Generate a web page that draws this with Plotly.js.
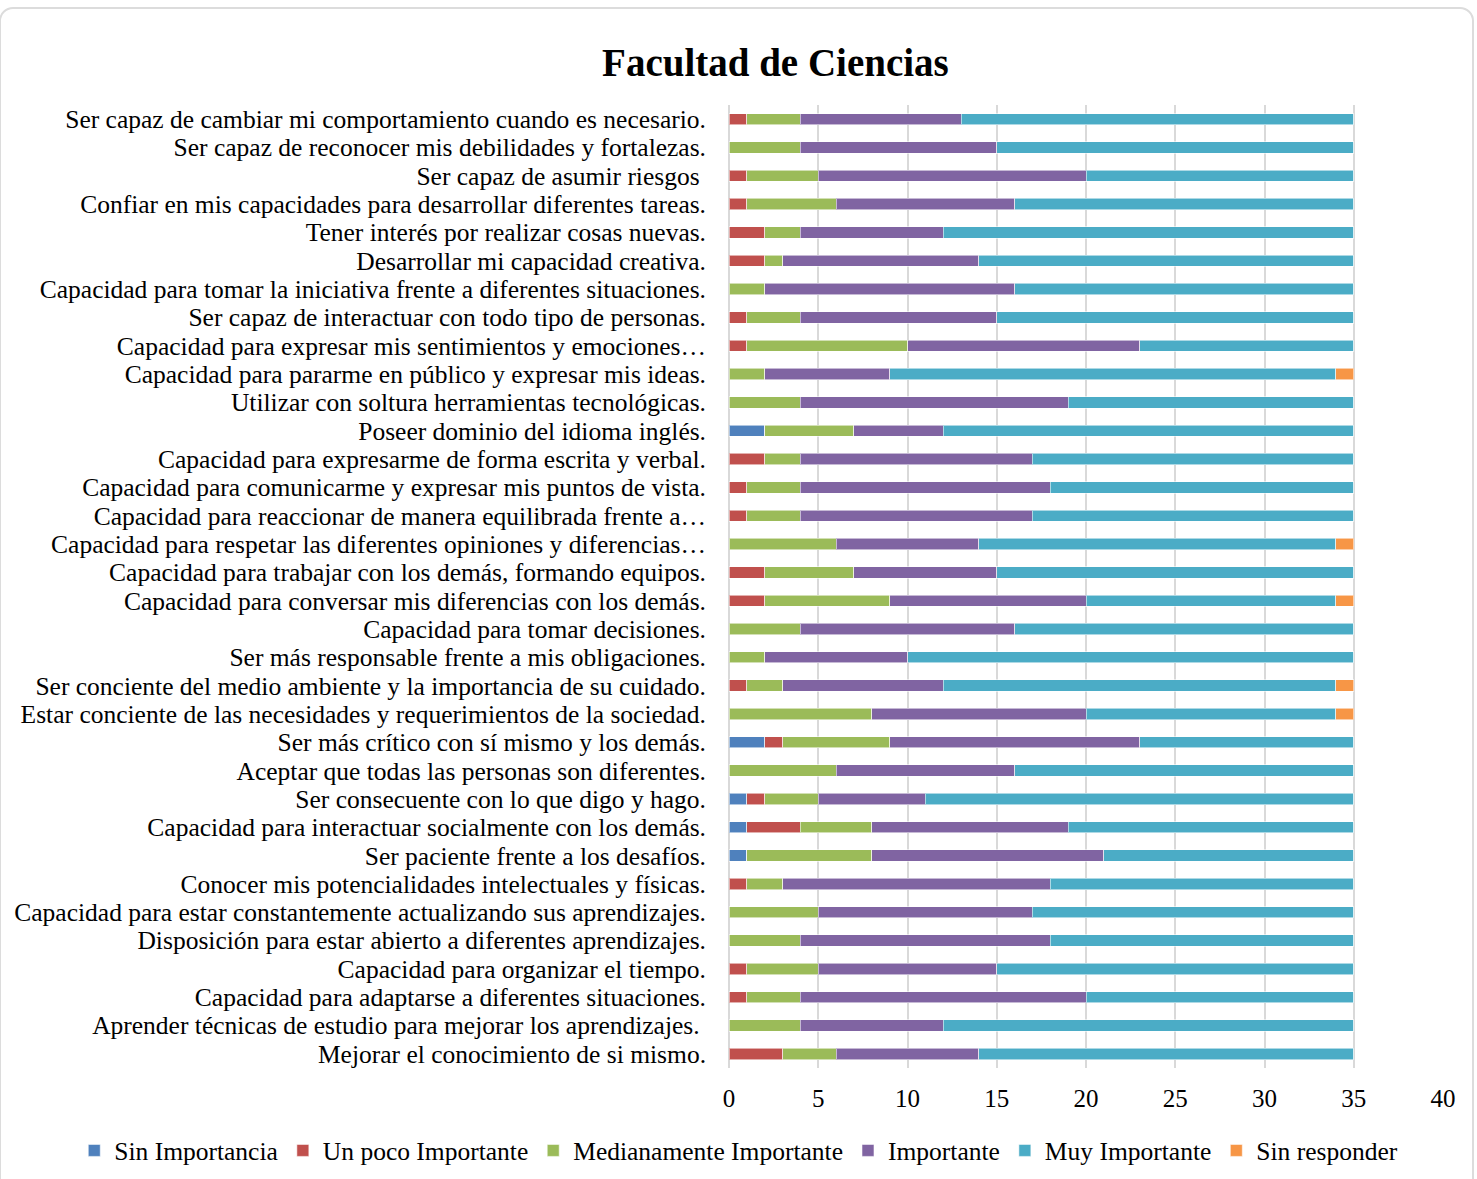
<!DOCTYPE html>
<html>
<head>
<meta charset="utf-8">
<script src="https://cdn.plot.ly/plotly-3.0.1.min.js"></script>
<style>
html,body{margin:0;padding:0;background:#fff;}
#card{position:absolute;left:-1px;top:7px;width:1475px;height:1220px;border:2px solid #dcdcdc;border-radius:14px;box-sizing:border-box;}
#chart{position:absolute;left:0;top:0;width:1477px;height:1179px;}
</style>
</head>
<body>
<div id="card"></div>
<div id="chart"></div>
<script>
const categories = [
  "Ser capaz de cambiar mi comportamiento cuando es necesario.",
  "Ser capaz de reconocer mis debilidades y fortalezas.",
  "Ser capaz de asumir riesgos ",
  "Confiar en mis capacidades para desarrollar diferentes tareas.",
  "Tener interés por realizar cosas nuevas.",
  "Desarrollar mi capacidad creativa.",
  "Capacidad para tomar la iniciativa frente a diferentes situaciones.",
  "Ser capaz de interactuar con todo tipo de personas.",
  "Capacidad para expresar mis sentimientos y emociones…",
  "Capacidad para pararme en público y expresar mis ideas.",
  "Utilizar con soltura herramientas tecnológicas.",
  "Poseer dominio del idioma inglés.",
  "Capacidad para expresarme de forma escrita y verbal.",
  "Capacidad para comunicarme y expresar mis puntos de vista.",
  "Capacidad para reaccionar de manera equilibrada frente a…",
  "Capacidad para respetar las diferentes opiniones y diferencias…",
  "Capacidad para trabajar con los demás, formando equipos.",
  "Capacidad para conversar mis diferencias con los demás.",
  "Capacidad para tomar decisiones.",
  "Ser más responsable frente a mis obligaciones.",
  "Ser conciente del medio ambiente y la importancia de su cuidado.",
  "Estar conciente de las necesidades y requerimientos de la sociedad.",
  "Ser más crítico con sí mismo y los demás.",
  "Aceptar que todas las personas son diferentes.",
  "Ser consecuente con lo que digo y hago.",
  "Capacidad para interactuar socialmente con los demás.",
  "Ser paciente frente a los desafíos.",
  "Conocer mis potencialidades intelectuales y físicas.",
  "Capacidad para estar constantemente actualizando sus aprendizajes.",
  "Disposición para estar abierto a diferentes aprendizajes.",
  "Capacidad para organizar el tiempo.",
  "Capacidad para adaptarse a diferentes situaciones.",
  "Aprender técnicas de estudio para mejorar los aprendizajes. ",
  "Mejorar el conocimiento de si mismo."
];
const sinImportancia =    [0,0,0,0,0,0,0,0,0,0,0,2,0,0,0,0,0,0,0,0,0,0,2,0,1,1,1,0,0,0,0,0,0,0];
const unPocoImportante =  [1,0,1,1,2,2,0,1,1,0,0,0,2,1,1,0,2,2,0,0,1,0,1,0,1,3,0,1,0,0,1,1,0,3];
const medianamente =      [3,4,4,5,2,1,2,3,9,2,4,5,2,3,3,6,5,7,4,2,2,8,6,6,3,4,7,2,5,4,4,3,4,3];
const importante =        [9,11,15,10,8,11,14,11,13,7,15,5,13,14,13,8,8,11,12,8,9,12,14,10,6,11,13,15,12,14,10,16,8,8];
const muyImportante =     [22,20,15,19,23,21,19,20,12,25,16,23,18,17,18,20,20,14,19,25,22,14,12,19,24,16,14,17,18,17,20,15,23,21];
const sinResponder =      [0,0,0,0,0,0,0,0,0,1,0,0,0,0,0,1,0,1,0,0,1,1,0,0,0,0,0,0,0,0,0,0,0,0];
const xTicks = [0,5,10,15,20,25,30,35,40];

const seriesNames = ["Sin Importancia","Un poco Importante","Medianamente Importante","Importante","Muy Importante","Sin responder"];
const seriesData = [sinImportancia, unPocoImportante, medianamente, importante, muyImportante, sinResponder];
const colors = ["#4F81BD","#C0504D","#9BBB59","#8064A2","#4BACC6","#F79646"];

const FONT = "Liberation Serif, Cambria, serif";

const traces = seriesNames.map((name,i)=>({
  type:'bar', orientation:'h', name:name,
  x: seriesData[i], y: categories,
  marker:{color:colors[i], line:{color:'rgba(255,255,255,0.55)', width:1}},
  hoverinfo:'x+name'
}));

const layout = {
  width:1477, height:1179,
  paper_bgcolor:'rgba(0,0,0,0)', plot_bgcolor:'rgba(0,0,0,0)',
  barmode:'stack', bargap:0.6,
  margin:{l:729, r:34, t:105, b:111, pad:0, autoexpand:false},
  font:{family:FONT, color:'#000', size:25},
  title:{text:'<b>Facultad de Ciencias</b>', x:0.525, xanchor:'center', xref:'container',
         y:0.947, yanchor:'middle', yref:'container',
         font:{family:FONT, size:39, color:'#000'}},
  xaxis:{range:[0,40], tickvals:xTicks, ticktext:xTicks.map(String), showgrid:true, gridcolor:'#d9d9d9', gridwidth:2,
         zeroline:true, zerolinecolor:'#d9d9d9', zerolinewidth:2, showline:false, ticks:'', ticklabelstandoff:13,
         tickfont:{family:FONT, size:25, color:'#000'}, fixedrange:true, automargin:false},
  yaxis:{type:'category', autorange:'reversed', tickmode:'array', tickvals:categories, ticktext:categories,
         showgrid:false, zeroline:false, showline:false, ticks:'',
         ticklabelstandoff:22, tickfont:{family:FONT, size:25.5, color:'#000'}, fixedrange:true, automargin:false},
  showlegend:true,
  legend:{orientation:'h', x:-0.917, xanchor:'left', y:-0.086, yanchor:'middle', traceorder:'normal',
          font:{family:FONT, size:25.5, color:'#000'}, itemwidth:30, bgcolor:'rgba(0,0,0,0)'}
};

Plotly.newPlot('chart', traces, layout, {displayModeBar:false, staticPlot:true});
</script>
</body>
</html>
